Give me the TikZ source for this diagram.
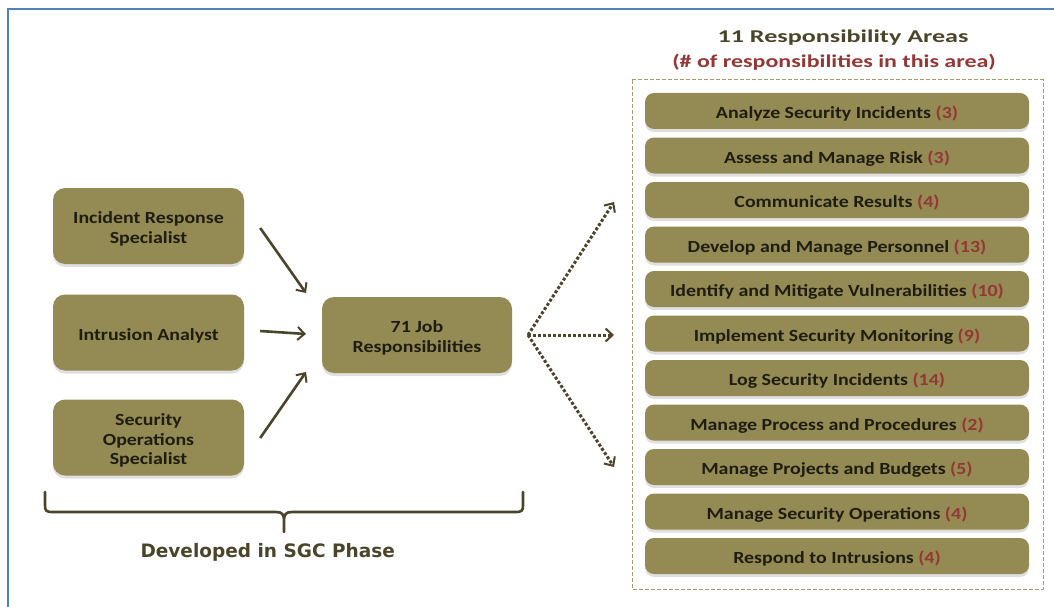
\documentclass[tikz,border=0pt]{standalone}
\usepackage{fontspec}
\setmainfont{Carlito}
\newfontfamily\widefont[FakeStretch=1.17]{Carlito}
\newfontfamily\titlefont[FakeStretch=1.45]{Carlito}
\newfontfamily\subfont[FakeStretch=1.33]{Carlito}
\newfontfamily\bracefont{DejaVu Sans}
\usepackage{xcolor}
\usepackage{tikz}
\usetikzlibrary{arrows.meta,positioning,shadows}

\definecolor{olive}{HTML}{948A54}
\definecolor{darkolive}{HTML}{4A452A}
\definecolor{inktext}{HTML}{1F1D10}
\definecolor{numred}{HTML}{953735}
\definecolor{frameblue}{HTML}{4F81BD}
% extra room above the first line, pushes box text a bit down
\newcommand{\toproom}{\rule{0pt}{18pt}}

\begin{document}
\begin{tikzpicture}[x=1pt, y=-1pt, >={Straight Barb[length=7pt,width=13pt,line width=2pt]},
  every node/.style={text=inktext},
  box/.style={rounded corners=12pt, fill=olive, minimum width=191pt, minimum height=76pt, align=center,
    font=\widefont\bfseries\fontsize{17}{19.5}\selectfont, drop shadow={shadow xshift=0pt, shadow yshift=-3pt, opacity=0.25}},
  area/.style={rounded corners=9pt, fill=olive, minimum width=384pt, minimum height=36pt, text height=15pt, text depth=0pt,
    font=\widefont\bfseries\fontsize{17}{20}\selectfont, drop shadow={shadow xshift=0pt, shadow yshift=-3pt, opacity=0.25}},
  feed/.style={->, draw=darkolive, line width=2.6pt},
  fan/.style={->, draw=darkolive, line width=3pt, dash pattern=on 3pt off 2pt}]
\useasboundingbox (0,0) rectangle (1054,607);
\draw[frameblue, line width=2pt] (8,607) -- (8,9) -- (1054,9);

% job roles and the merged list
\node[box] (irs) at (148.5,226) {\toproom Incident Response\\Specialist};
\node[box] (ia)  at (148.5,332.5) {\toproom Intrusion Analyst};
\node[box] (sos) at (148.5,437.5) {\toproom Security\\Operations\\Specialist};
\node[box, minimum width=190pt] (jobs) at (417,335) {\toproom 71 Job\\Responsibilities};

\coordinate (in1) at (306,293);
\coordinate (in2) at (306,334);
\coordinate (in3) at (306,372);
\draw[feed] ([xshift=16pt,yshift=-2pt]irs.east) -- (in1);
\draw[feed] ([xshift=16pt,yshift=1.5pt]ia.east) -- (in2);
\draw[feed] ([xshift=16pt,yshift=-0.5pt]sos.east) -- (in3);

% fan out to the areas
\coordinate (split) at (528,335);
\foreach \y [count=\k] in {202,335,467}{
  \coordinate (out\k) at (614,\y);
  \draw[fan] (split) -- (out\k);
}

% the eleven areas
\node[font=\titlefont\bfseries\fontsize{18}{22}\selectfont, text=darkolive] (ttl) at (843,38) {11 Responsibility Areas};
\node[font=\subfont\bfseries\fontsize{18}{22}\selectfont, text=numred] (sub) at (834,62) {(\# of responsibilities in this area)};
\draw[olive!85!white, line width=1pt, dash pattern=on 4pt off 2pt] (632,80) rectangle (1043,589);
\foreach \txt/\n [count=\i] in {Analyze Security Incidents/3, Assess and Manage Risk/3, Communicate Results/4,
  Develop and Manage Personnel/13, Identify and Mitigate Vulnerabilities/10, Implement Security Monitoring/9,
  Log Security Incidents/14, Manage Process and Procedures/2, Manage Projects and Budgets/5,
  Manage Security Operations/4, Respond to Intrusions/4}{
  \node[area] (a\i) at (837,{111+(\i-1)*44.5}) {\txt\ \textcolor{numred}{(\n)}};
}

% brace under the left part
\draw[darkolive, line width=2.6pt, line cap=round, line join=round]
  (45,492) -- (45,505) .. controls (45,511) and (46,512) .. (53,512) -- (276,512)
  .. controls (282,512) and (284,514) .. (284,521) -- (284,532)
  (284,521) .. controls (284,514) and (286,512) .. (292,512) -- (515,512)
  .. controls (522,512) and (523,511) .. (523,505) -- (523,492);
\node[font=\bracefont\bfseries\fontsize{18.5}{22}\selectfont, text=darkolive, anchor=west] (phase) at (137,552) {Developed in SGC Phase};
\end{tikzpicture}
\end{document}
